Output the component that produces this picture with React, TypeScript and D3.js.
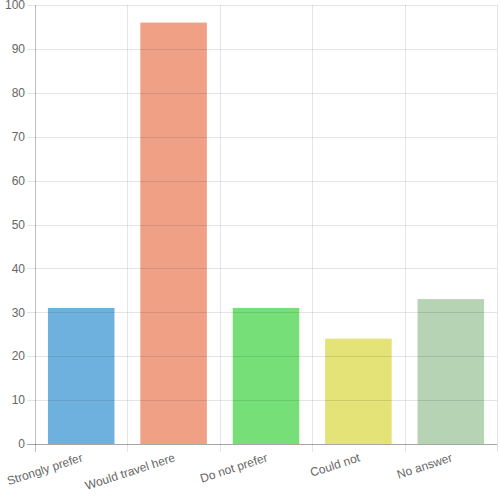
import { useEffect, useRef } from 'react';
import * as d3 from 'd3';

const categories = ['Strongly prefer', 'Would travel here', 'Do not prefer', 'Could not', 'No answer'];
const values = [31, 96, 31, 24, 33];
const barColors = ['#6fb1de', '#f0a085', '#77df77', '#e3e378', '#b6d3b3'];
const yTicks = [0, 10, 20, 30, 40, 50, 60, 70, 80, 90, 100];

const App = () => {
  const ref = useRef<SVGSVGElement>(null);

  useEffect(() => {
    const width = 500;
    const height = 500;
    const margin = { top: 5, right: 3, bottom: 56, left: 35 };

    const svg = d3.select(ref.current);
    svg.selectAll('*').remove();

    const x = d3.scaleBand<string>()
      .domain(categories)
      .range([margin.left, width - margin.right]);

    const y = d3.scaleLinear()
      .domain([0, 100])
      .range([height - margin.bottom, margin.top]);

    const font = '"Liberation Sans", Arial, sans-serif';

    // bars
    const bw = x.bandwidth() * 0.72;
    svg.append('g')
      .selectAll('rect')
      .data(values)
      .enter()
      .append('rect')
      .attr('x', (d, i) => x(categories[i])! + (x.bandwidth() - bw) / 2)
      .attr('y', d => y(d))
      .attr('width', bw)
      .attr('height', d => y(0) - y(d))
      .attr('fill', (d, i) => barColors[i]);

    // horizontal grid
    svg.append('g')
      .selectAll('line')
      .data(yTicks)
      .enter()
      .append('line')
      .attr('x1', margin.left - 8)
      .attr('x2', width - margin.right)
      .attr('y1', d => Math.round(y(d)) + 0.5)
      .attr('y2', d => Math.round(y(d)) + 0.5)
      .attr('stroke', d => (d === 0 ? 'rgba(0,0,0,0.35)' : 'rgba(0,0,0,0.1)'));

    // vertical grid
    const xLines = categories.map(c => x(c)!).concat([width - margin.right]);
    svg.append('g')
      .selectAll('line')
      .data(xLines)
      .enter()
      .append('line')
      .attr('x1', d => Math.round(d) + 0.5)
      .attr('x2', d => Math.round(d) + 0.5)
      .attr('y1', margin.top)
      .attr('y2', height - margin.bottom + 8)
      .attr('stroke', (d, i) => (i === 0 ? 'rgba(0,0,0,0.25)' : 'rgba(0,0,0,0.1)'));

    // y labels
    svg.append('g')
      .selectAll('text')
      .data(yTicks)
      .enter()
      .append('text')
      .attr('x', margin.left - 10)
      .attr('y', d => y(d))
      .attr('dy', '0.35em')
      .attr('text-anchor', 'end')
      .style('font-family', font)
      .style('font-size', '12px')
      .attr('fill', '#666')
      .text(d => d);

    // x labels
    svg.append('g')
      .selectAll('text')
      .data(categories)
      .enter()
      .append('text')
      .attr('transform', d => `translate(${x(d)! + x.bandwidth() / 2 + 1}, ${height - margin.bottom + 13}) rotate(-18)`)
      .attr('text-anchor', 'end')
      .attr('dy', '0.35em')
      .style('font-family', font)
      .style('font-size', '12px')
      .attr('fill', '#666')
      .text(d => d);
  }, []);

  return <svg ref={ref} width={500} height={500} style={{ position: 'absolute', left: 0, top: 0 }}></svg>;
};

export default App;
